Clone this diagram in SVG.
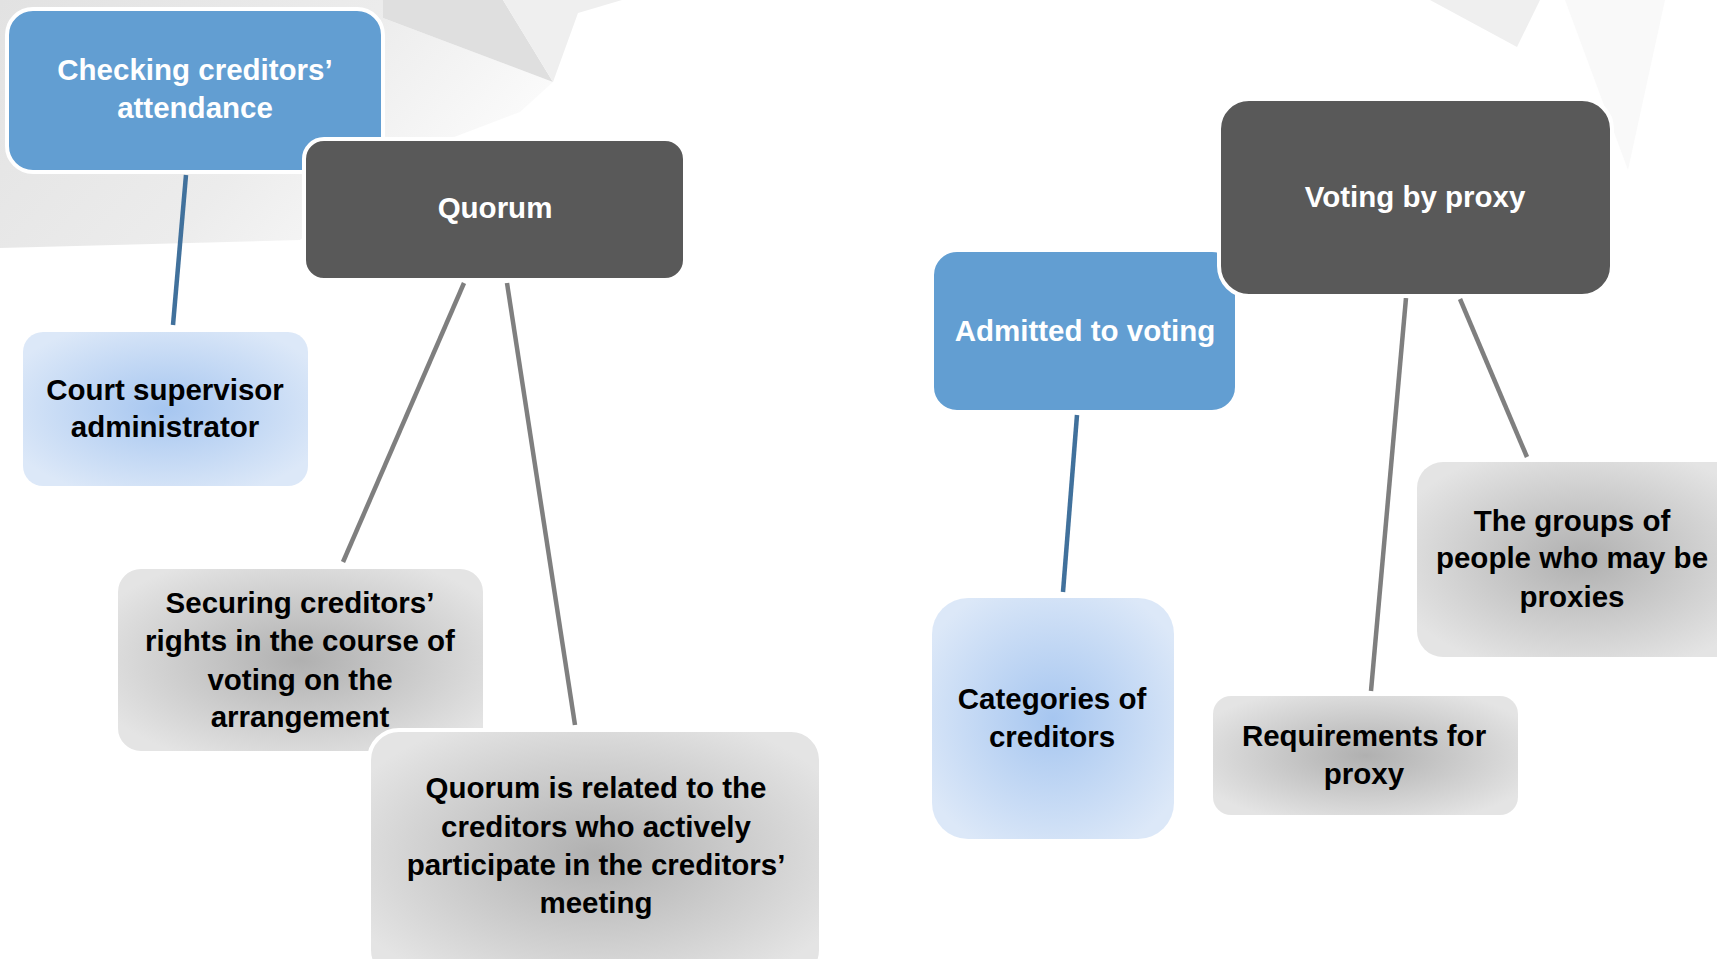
<svg xmlns="http://www.w3.org/2000/svg" width="1717" height="959" viewBox="0 0 1717 959">
<style>
.t{font-family:"Liberation Sans",Arial,sans-serif;font-weight:bold;font-size:29.5px;text-anchor:middle}
.w{fill:#ffffff}
.k{fill:#000000}
.node{stroke:#ffffff;stroke-width:4}
.blue{fill:#629ed2}
.dark{fill:#595959}
.gray{fill:url(#gg)}
.lblue{fill:url(#bg)}
.cb{stroke:#41719c;stroke-width:4.5;fill:none}
.cg{stroke:#7f7f7f;stroke-width:4.5;fill:none}
</style>
<defs>
<radialGradient id="gg" cx="50%" cy="50%" r="60%">
<stop offset="0" stop-color="#b0b0b0"/>
<stop offset="1" stop-color="#e4e4e4"/>
</radialGradient>
<radialGradient id="bg" cx="50%" cy="50%" r="60%">
<stop offset="0" stop-color="#a6c6f0"/>
<stop offset="1" stop-color="#dce8f8"/>
</radialGradient>
<linearGradient id="bgl" x1="0" y1="0" x2="1" y2="0.4">
<stop offset="0" stop-color="#e2e2e2"/>
<stop offset="0.6" stop-color="#ececec"/>
<stop offset="1" stop-color="#fbfbfb"/>
</linearGradient>
</defs>
<rect width="1717" height="959" fill="#ffffff"/>
<g id="background">
<polygon points="0,0 383,0 383,18 553,82 520,112 420,150 300,240 0,248" fill="url(#bgl)"/>
<polygon points="383,0 503,0 553,82 383,18" fill="#dfdfdf"/>
<polygon points="503,0 622,0 578,13 553,82" fill="#efefef"/>
<polygon points="1430,0 1540,0 1517,47" fill="#efefef"/>
<polygon points="1565,0 1665,0 1628,170" fill="#f9f9f9"/>
</g>
<g id="connectors">
<line class="cb" x1="186" y1="175" x2="173" y2="325"/>
<line class="cg" x1="464" y1="283" x2="343" y2="562"/>
<line class="cg" x1="507" y1="283" x2="575" y2="725"/>
<line class="cb" x1="1077" y1="415" x2="1063" y2="592"/>
<line class="cg" x1="1406" y1="298" x2="1371" y2="691"/>
<line class="cg" x1="1460" y1="299" x2="1527" y2="457"/>
</g>
<g id="n-checking">
<rect class="node blue" x="7" y="9" width="376" height="163" rx="26"/>
<text class="t w" x="195" y="80">Checking creditors’</text>
<text class="t w" x="195" y="118">attendance</text>
</g>
<g id="n-quorum">
<rect class="node dark" x="304" y="139" width="381" height="141" rx="20"/>
<text class="t w" x="495" y="218">Quorum</text>
</g>
<g id="n-court">
<rect class="lblue" x="23" y="332" width="285" height="154" rx="20"/>
<text class="t k" x="165" y="400">Court supervisor</text>
<text class="t k" x="165" y="437">administrator</text>
</g>
<g id="n-securing">
<rect class="node gray" x="116" y="567" width="369" height="186" rx="25"/>
<text class="t k" x="300" y="613">Securing creditors’</text>
<text class="t k" x="300" y="651">rights in the course of</text>
<text class="t k" x="300" y="690">voting on the</text>
<text class="t k" x="300" y="727">arrangement</text>
</g>
<g id="n-quorum-related">
<rect class="node gray" x="369" y="730" width="452" height="250" rx="30"/>
<text class="t k" x="596" y="798">Quorum is related to the</text>
<text class="t k" x="596" y="837">creditors who actively</text>
<text class="t k" x="596" y="875">participate in the creditors’</text>
<text class="t k" x="596" y="913">meeting</text>
</g>
<g id="n-admitted">
<rect class="node blue" x="932" y="250" width="305" height="162" rx="25"/>
<text class="t w" x="1085" y="341">Admitted to voting</text>
</g>
<g id="n-voting">
<rect class="node dark" x="1219" y="99" width="393" height="197" rx="30"/>
<text class="t w" x="1415" y="207">Voting by proxy</text>
</g>
<g id="n-categories">
<rect class="lblue" x="932" y="598" width="242" height="241" rx="36"/>
<text class="t k" x="1052" y="709">Categories of</text>
<text class="t k" x="1052" y="747">creditors</text>
</g>
<g id="n-requirements">
<rect class="gray" x="1213" y="696" width="305" height="119" rx="18"/>
<text class="t k" x="1364" y="746">Requirements for</text>
<text class="t k" x="1364" y="784">proxy</text>
</g>
<g id="n-groups">
<rect class="gray" x="1417" y="462" width="330" height="195" rx="26"/>
<text class="t k" x="1572" y="531">The groups of</text>
<text class="t k" x="1572" y="568">people who may be</text>
<text class="t k" x="1572" y="607">proxies</text>
</g>
</svg>
